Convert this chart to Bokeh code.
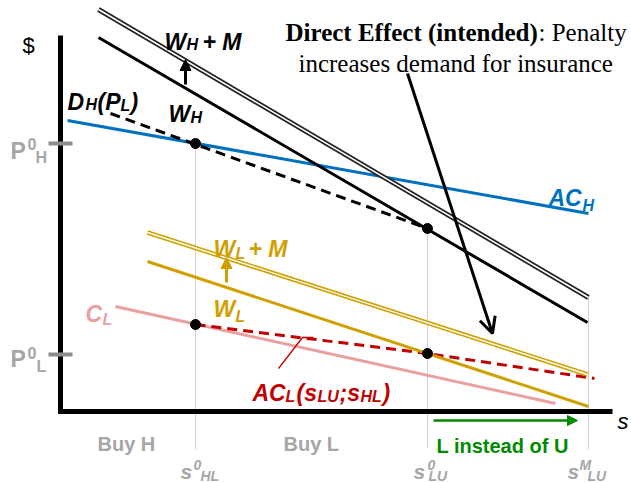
from bokeh.plotting import figure
from bokeh.models import Range1d, Arrow, NormalHead, OpenHead
from bokeh.core.properties import value
from bokeh.embed import file_html
from bokeh.resources import INLINE

# --- diagram values (s along the horizontal axis, $ up the vertical axis) ---
s_HL0 = 135          # s^0_HL
s_LU0 = 367          # s^0_LU
s_LUM = 528          # s^M_LU
p_H0 = 268           # P^0_H
p_L0 = 58            # P^0_L

# willingness to pay for H, with and without the mandate penalty M
wh_m_s = [38, 528]
wh_m_v = [402, 114]
wh_s = [38, 527]
wh_v = [374, 89]

# demand for H at the price of L
dh_s = [50, 367]
dh_v = [298, 183]

# average cost of H
ach_s = [7, 528]
ach_v = [291, 198]

# willingness to pay for L, with and without M
wl_m_s = [87, 527]
wl_m_v = [179, 37]
wl_s = [87, 528]
wl_v = [150, 5]

# cost of L and average cost of L
cl_s = [55, 495]
cl_v = [105, 8]
acl_s = [s_HL0, s_LU0, 534]
acl_v = [87, p_L0, 33]

# equilibrium points
pts_s = [s_HL0, s_LU0, s_HL0, s_LU0]
pts_v = [p_H0, 183, 87, p_L0]

axis_top = 376
axis_right = 552
drop_to = -37

GOLD = "#D0A000"
BLUE = "#0070C0"
PINK = "#E8A0A0"
RED = "#C00000"
GRAY = "#A6A6A6"
GREEN = "#008A00"

p = figure(width=631, height=483, x_range=Range1d(-60, 571), y_range=Range1d(-72, 411),
           x_axis_location=None, y_axis_location=None, toolbar_location=None,
           output_backend="svg", min_border=0, outline_line_color=None,
           background_fill_color="white", border_fill_color="white")
p.grid.visible = False


def put(x, y, s, size, color="black", style="bold italic", font="Liberation Sans", align="left"):
    p.text(x=[x], y=[y], text=[s], text_font=value(font), text_font_size=f"{size}px",
           text_font_style=style, text_color=color, text_align=align,
           text_baseline="alphabetic")


# dotted guides down from the equilibrium points
for sx, top in [(s_HL0, p_H0), (s_LU0, 183), (s_LUM, wh_m_v[1])]:
    p.line([sx, sx], [top, drop_to], line_color="#A0A0A0", line_width=1, line_dash="1 1")

# axes
p.line([0, 0, axis_right], [axis_top, 0, 0], line_color="black", line_width=5, line_join="miter")

# price ticks
for pv in [p_H0, p_L0 - 1]:
    p.line([-12, 12], [pv, pv], line_color="#8C8C8C", line_width=4)

# H curves
p.line(ach_s, ach_v, line_color=BLUE, line_width=3)
p.line(dh_s, dh_v, line_color="black", line_width=3, line_dash="10 6")
p.line(wh_s, wh_v, line_color="black", line_width=3)
p.line(wh_m_s, wh_m_v, line_color="#222222", line_width=5)
p.line(wh_m_s, wh_m_v, line_color="white", line_width=1.6)

# L curves
p.line(cl_s, cl_v, line_color=PINK, line_width=3)
p.line(acl_s, acl_v, line_color=RED, line_width=3, line_dash="10 6")
p.line(wl_s, wl_v, line_color=GOLD, line_width=3)
p.line(wl_m_s, wl_m_v, line_color=GOLD, line_width=4.5)
p.line(wl_m_s, wl_m_v, line_color="white", line_width=1.4)

# leader from the AC_L label
p.line([218, 242, 253], [43, 74, 74], line_color=RED, line_width=1.3)

p.scatter(pts_s, pts_v, size=10, color="black")

# shift arrows for the penalty M
p.add_layout(Arrow(end=NormalHead(size=11, fill_color="black", line_color="black"),
                   x_start=125, y_start=327, x_end=125, y_end=352,
                   line_color="black", line_width=3))
p.add_layout(Arrow(end=NormalHead(size=11, fill_color=GOLD, line_color=GOLD),
                   x_start=166, y_start=129, x_end=166, y_end=154,
                   line_color=GOLD, line_width=3))

# direct effect arrow
p.add_layout(Arrow(end=OpenHead(size=16, line_color="black", line_width=3),
                   x_start=347, y_start=338, x_end=432, y_end=78,
                   line_color="black", line_width=3))

# L instead of U
p.add_layout(Arrow(end=NormalHead(size=10, fill_color=GREEN, line_color=GREEN),
                   x_start=373, y_start=-9, x_end=517, y_end=-9,
                   line_color=GREEN, line_width=2.5))

# axis titles
put(-38, 366, "$", 22, style="normal")
put(557, -10, "s", 22, style="italic")

# price labels
put(-50, 261, "P", 23, GRAY, "bold")
put(-33, 268, "0", 16, GRAY, "bold")
put(-25, 254, "H", 16, GRAY, "bold")
put(-50, 53, "P", 23, GRAY, "bold")
put(-33, 59, "0", 16, GRAY, "bold")
put(-24, 45, "L", 16, GRAY, "bold")

# curve labels
put(104, 370, "W", 23)
put(126, 367, "H", 16)
put(142, 370, "+ M", 23)

put(108, 298, "W", 23)
put(130, 294, "H", 16)

put(7, 310, "D", 23)
put(25, 307, "H", 16)
put(37, 310, "(P", 23)
put(60, 306, "L", 16)
put(70, 310, ")", 23)

put(488, 214, "AC", 23, BLUE)
put(522, 206, "H", 16, BLUE)

put(153, 163, "W", 23, GOLD)
put(175, 158, "L", 16, GOLD)
put(188, 163, "+ M", 23, GOLD)

put(153, 103, "W", 23, GOLD)
put(175, 95, "L", 16, GOLD)

put(25, 98, "C", 23, PINK)
put(42, 92, "L", 16, PINK)

put(192, 19, "AC", 23, RED)
put(225, 15, "L", 16, RED)
put(236, 19, "(s", 23, RED)
put(257, 15, "LU", 16, RED)
put(279, 19, ";s", 23, RED)
put(300, 15, "HL", 16, RED)
put(322, 19, ")", 23, RED)

# annotation text
put(225, 379, "Direct Effect (intended)", 25, style="bold", font="Liberation Serif")
put(478, 379, ": Penalty", 25, style="normal", font="Liberation Serif")
put(238, 348, "increases demand for insurance", 25, style="normal", font="Liberation Serif")

# regions below the axis
put(37, -32, "Buy H", 20, GRAY, "bold")
put(223, -32, "Buy L", 20, GRAY, "bold")
put(376, -34, "L instead of U", 20, GREEN, "bold")

# threshold labels
put(120, -60, "s", 21, GRAY)
put(133, -53, "0", 14, GRAY)
put(140, -64, "HL", 14, GRAY)
put(353, -60, "s", 21, GRAY)
put(367, -53, "0", 14, GRAY)
put(368, -64, "LU", 14, GRAY)
put(507, -60, "s", 21, GRAY)
put(519, -53, "M", 14, GRAY)
put(527, -64, "LU", 14, GRAY)

open("out.html", "w").write(file_html(p, INLINE))
